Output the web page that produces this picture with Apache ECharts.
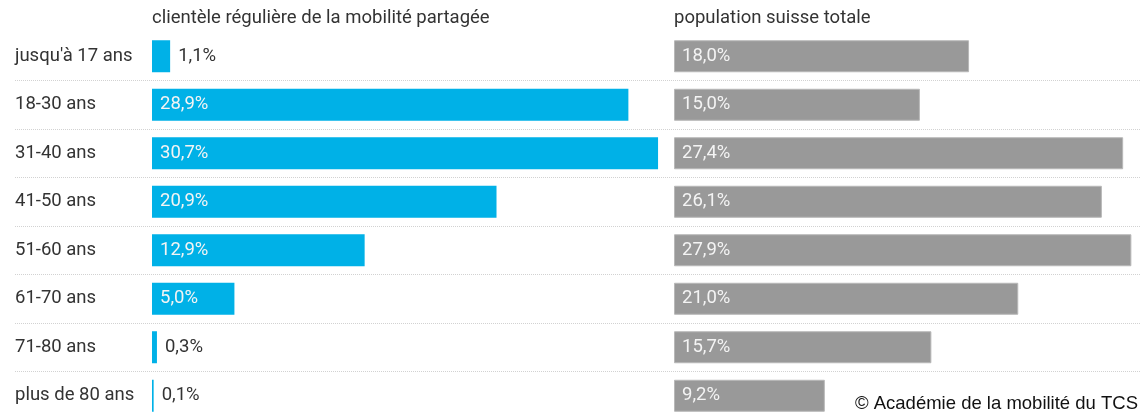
<!DOCTYPE html>
<html>
<head>
<meta charset="utf-8">
<script src="https://cdn.jsdelivr.net/npm/echarts@6/dist/echarts.min.js"></script>
<style>html,body{margin:0;padding:0;background:#fff;overflow:hidden}#c{width:1140px;height:430px}</style>
</head>
<body>
<div id="c"></div>
<script>
const categories = ["jusqu'à 17 ans", "18-30 ans", "31-40 ans", "41-50 ans", "51-60 ans", "61-70 ans", "71-80 ans", "plus de 80 ans"];
const sharedMobility = [1.1, 28.9, 30.7, 20.9, 12.9, 5.0, 0.3, 0.1];
const swissPopulation = [18.0, 15.0, 27.4, 26.1, 27.9, 21.0, 15.7, 9.2];
const titles = ["clientèle régulière de la mobilité partagée", "population suisse totale"];
const credit = "© Académie de la mobilité du TCS";

const FONT = 'Roboto';
const FS = 18.5;
const fmt = v => v.toFixed(1).replace('.', ',') + '%';
function items(arr) {
  return arr.map(v => {
    const inside = v >= 3;
    return {
      value: v,
      label: inside
        ? { position: 'insideLeft', distance: 8, color: '#f4f4f4' }
        : { position: 'right', distance: 8, color: '#333' }
    };
  });
}
const chart = echarts.init(document.getElementById('c'), null, { renderer: 'canvas' });
const gridTop = 32, gridH = 388;
chart.setOption({
  animation: false,
  textStyle: { fontFamily: FONT },
  grid: [
    { left: 152, width: 511, top: gridTop, height: gridH },
    { left: 674, width: 459, top: gridTop, height: gridH },
    { left: 15, right: 0, top: gridTop, height: gridH }
  ],
  graphic: [
    { type: 'text', left: 152, top: 9, style: { text: titles[0], fontFamily: FONT, fontSize: FS, fill: '#333' } },
    { type: 'text', left: 674, top: 9, style: { text: titles[1], fontFamily: FONT, fontSize: FS, fill: '#333' } },
    { type: 'text', right: 2, top: 394, style: { text: credit, fontFamily: 'Liberation Sans', fontSize: 18.5, fill: '#111' } }
  ],
  xAxis: [
    { gridIndex: 0, type: 'value', min: 0, max: 31, show: false },
    { gridIndex: 1, type: 'value', min: 0, max: 28, show: false },
    { gridIndex: 2, type: 'value', min: 0, max: 1, show: false }
  ],
  yAxis: [
    { gridIndex: 0, type: 'category', data: categories, inverse: true,
      axisLine: { show: false }, axisTick: { show: false }, splitLine: { show: false },
      axisLabel: { align: 'left', margin: 137, fontFamily: FONT, fontSize: FS, color: '#333' } },
    { gridIndex: 1, type: 'category', data: categories, inverse: true, show: false },
    { gridIndex: 2, type: 'category', data: categories, inverse: true,
      axisLine: { show: false }, axisTick: { show: false }, axisLabel: { show: false },
      splitLine: { show: true, interval: (i) => i !== 0, lineStyle: { color: '#d2d2d2', width: 1, type: [1, 1] } } }
  ],
  series: [
    { type: 'bar', xAxisIndex: 0, yAxisIndex: 0, data: items(sharedMobility), barWidth: 32,
      itemStyle: { color: '#00b1e7' },
      label: { show: true, formatter: p => fmt(p.value), fontFamily: FONT, fontSize: FS } },
    { type: 'bar', xAxisIndex: 1, yAxisIndex: 1, data: items(swissPopulation), barWidth: 32,
      itemStyle: { color: '#999999', borderColor: '#b8b8b8', borderWidth: 1 },
      label: { show: true, formatter: p => fmt(p.value), fontFamily: FONT, fontSize: FS } }
  ]
});
</script>
</body>
</html>
